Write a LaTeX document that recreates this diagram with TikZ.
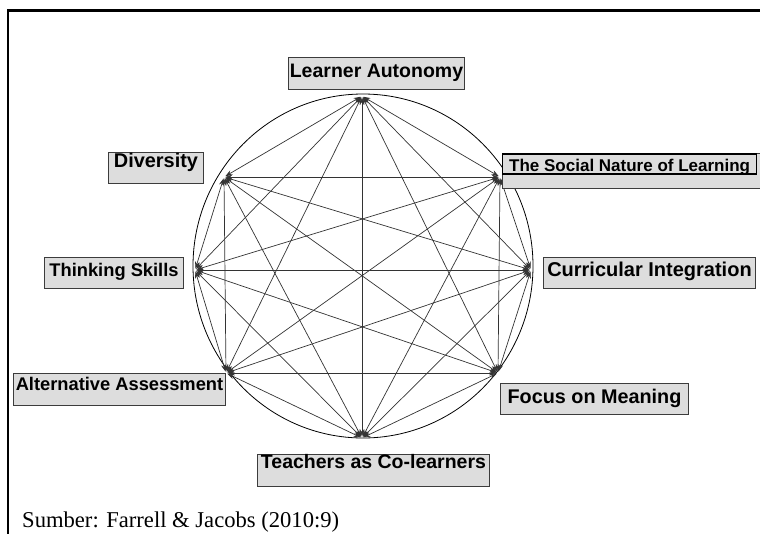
\documentclass[tikz,border=0pt]{standalone}
\usepackage{fontspec}
\setmainfont{Liberation Serif}
\setsansfont{Liberation Sans}
\usetikzlibrary{arrows.meta}
\definecolor{boxfill}{RGB}{221,221,221}
\definecolor{boxline}{RGB}{60,60,60}
\newcommand{\fsz}[1]{\fontsize{#1}{#1}\selectfont}
\tikzset{
	lbl/.style={draw=boxline,fill=boxfill,line width=1pt,anchor=base west,inner sep=0pt},
	link/.style={<->,draw=black!80,line width=0.7pt,shorten <=1.5pt,shorten >=1.5pt},
}
\begin{document}
\begin{tikzpicture}[x=1pt,y=-1pt,>={Stealth[length=7pt,width=5pt]}]
	\useasboundingbox (0,0) rectangle (760,533);
	
	% frame
	\draw[line width=2.4pt] (8,540) -- (8,10.5) -- (770,10.5);
	
	% points on the circle
	\coordinate (LA) at (362,96);
	\coordinate (SN) at (500,177);
	\coordinate (CI) at (531,270);
	\coordinate (FM) at (498,373);
	\coordinate (TC) at (362,438);
	\coordinate (AA) at (226,373);
	\coordinate (TS) at (195,270);
	\coordinate (DI) at (224,177);
	
	\draw[line width=0.8pt] (363,266) ellipse [x radius=170pt,y radius=172pt];
	
	\foreach \a/\b in {LA/SN,LA/CI,LA/FM,LA/TC,LA/AA,LA/TS,LA/DI,
		SN/CI,SN/FM,SN/TC,SN/AA,SN/TS,SN/DI,
		CI/FM,CI/TC,CI/AA,CI/TS,CI/DI,
		FM/TC,FM/AA,FM/TS,FM/DI,
		TC/AA,TC/TS,TC/DI,
		AA/TS,AA/DI,
		TS/DI}
		\draw[link] (\a) -- (\b);
	
	% labels
	\node[lbl,minimum width=176pt,text height=20pt,text depth=12pt,
		font=\sffamily\bfseries\fsz{19.5}] (la-box) at (288,77) {Learner Autonomy};
	\node[lbl,anchor=north west,minimum width=270pt,minimum height=35pt] (sn-box) at (502,153) {};
	\node[lbl,draw=black,line width=1.3pt,minimum width=254pt,text height=17.7pt,text depth=2.3pt,
		font=\sffamily\bfseries\fsz{17}] (sn-text) at (502,171.7) {The Social Nature of Learning};
	\node[lbl,minimum width=212pt,text height=19.7pt,text depth=11.3pt,
		font=\sffamily\bfseries\fsz{20}] (ci-box) at (543,276.7) {Curricular Integration};
	\node[lbl,minimum width=188pt,text height=20pt,text depth=11pt,
		font=\sffamily\bfseries\fsz{19.8}] (fm-box) at (500,403) {Focus on Meaning};
	\node[lbl,minimum width=232pt,text height=14.5pt,text depth=17.5pt,
		font=\sffamily\bfseries\fsz{19.5}] (tc-box) at (257,468.5) {Teachers as Co-learners};
	\node[lbl,minimum width=212pt,text height=17.7pt,text depth=14.3pt,
		font=\sffamily\bfseries\fsz{18.3}] (aa-box) at (13,390.7) {Alternative Assessment};
	\node[lbl,minimum width=139pt,text height=19.7pt,text depth=11.3pt,
		font=\sffamily\bfseries\fsz{18.3}] (ts-box) at (44,276.7) {Thinking Skills};
	\node[lbl,minimum width=95pt,text height=15.3pt,text depth=16pt,
		font=\sffamily\bfseries\fsz{19.9}] (di-box) at (108,167.3) {Diversity};
	
	% source
	\node[anchor=base west,inner sep=0pt,font=\fsz{22.6}] (src) at (22,527) {Sumber: Farrell \& Jacobs (2010:9)};
\end{tikzpicture}
\end{document}
